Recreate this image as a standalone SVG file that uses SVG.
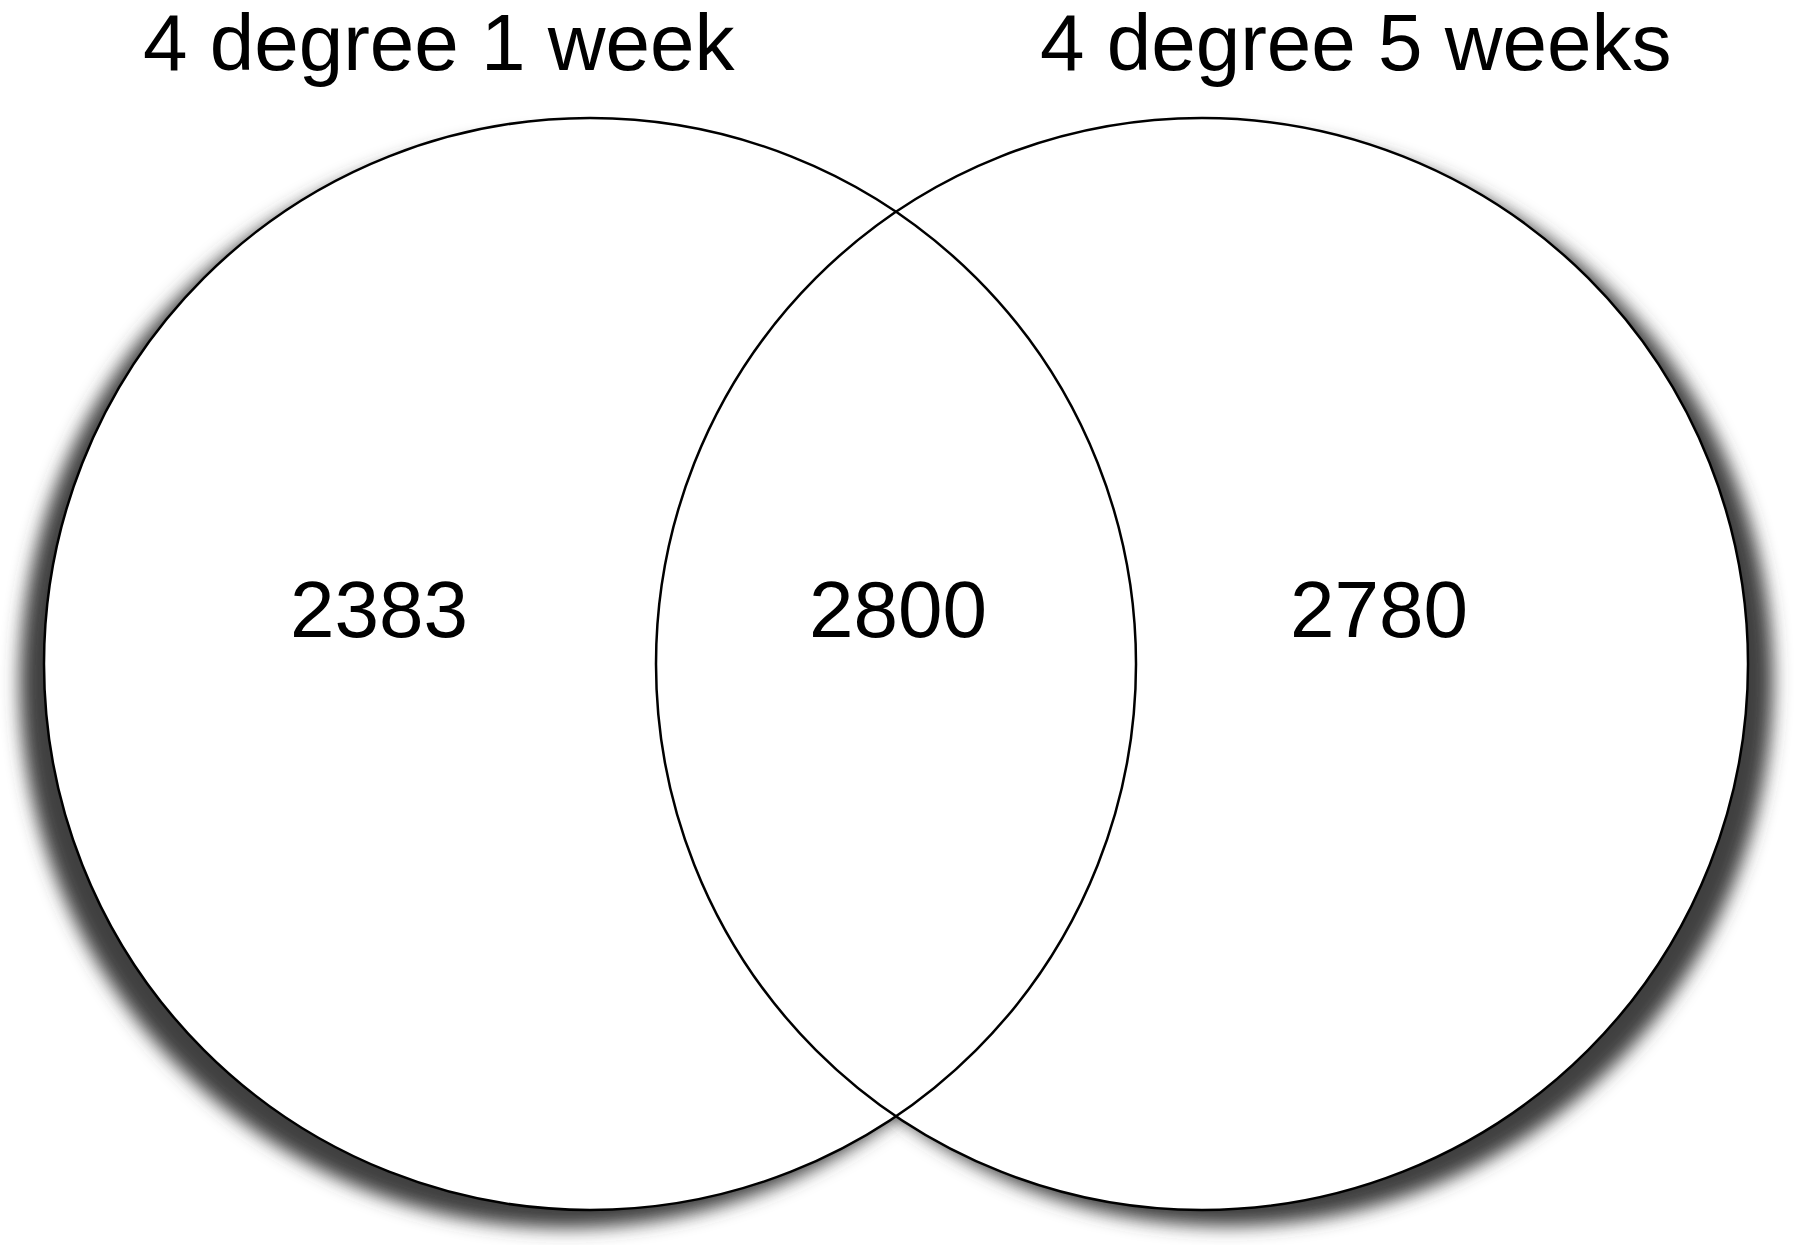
<svg xmlns="http://www.w3.org/2000/svg" width="1795" height="1245" viewBox="0 0 1795 1245">
<defs>
<filter id="blur" x="-10%" y="-10%" width="120%" height="120%"><feGaussianBlur stdDeviation="9"/></filter>
</defs>
<style>
.lbl{font-family:"Liberation Sans",Arial,sans-serif;font-size:80px;fill:#000}
.num{text-anchor:middle}
.ring{fill:none;stroke:#000;stroke-width:2.5}
.disc{fill:#fff;stroke:none}
.shadow{fill:#404040;filter:url(#blur)}
</style>
<rect width="1795" height="1245" fill="#fff"/>
<g id="shadows">
<circle class="shadow" cx="566" cy="682" r="546"/>
<circle class="shadow" cx="1227" cy="680" r="546"/>
</g>
<g id="fills">
<circle class="disc" cx="590" cy="664" r="546"/>
<circle class="disc" cx="1202" cy="664" r="546"/>
</g>
<g id="set-1week">
<circle class="ring" cx="590" cy="664" r="546"/>
<text class="lbl" x="143" y="70">4 degree 1 week</text>
<text class="lbl num" x="379" y="637">2383</text>
</g>
<g id="set-5weeks">
<circle class="ring" cx="1202" cy="664" r="546"/>
<text class="lbl" x="1040" y="70">4 degree 5 weeks</text>
<text class="lbl num" x="1379" y="637">2780</text>
</g>
<g id="intersection">
<text class="lbl num" x="898" y="637">2800</text>
</g>
</svg>
